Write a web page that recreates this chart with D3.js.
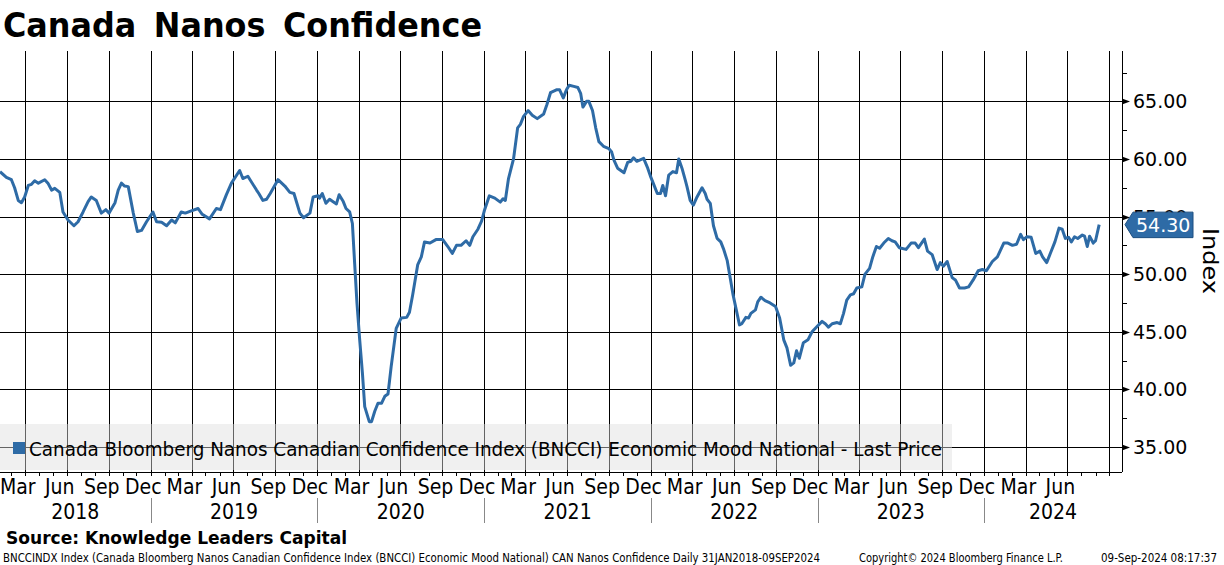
<!DOCTYPE html>
<html lang="en">
<head>
<meta charset="utf-8">
<title>Canada Nanos Confidence</title>
<script src="https://d3js.org/d3.v7.min.js"></script>
<style>
  body { margin: 0; background: #fff; }
  text { font-family: "DejaVu Sans Condensed", "DejaVu Sans", sans-serif; fill: #000; }
  .num { font-family: "DejaVu Sans", sans-serif; }
</style>
</head>
<body>
<script>
// weekly readings
var dates = [
  "2018-02-05","2018-02-19","2018-03-02","2018-03-09","2018-03-17","2018-03-24","2018-03-31","2018-04-08",
  "2018-04-15","2018-04-22","2018-04-30","2018-05-14","2018-05-21","2018-05-29","2018-06-05","2018-06-16",
  "2018-06-23","2018-07-04","2018-07-17","2018-07-26","2018-08-06","2018-08-17","2018-08-24","2018-09-04",
  "2018-09-15","2018-09-25","2018-10-02","2018-10-15","2018-10-22","2018-10-29","2018-11-05","2018-11-13",
  "2018-11-24","2018-12-03","2018-12-12","2018-12-23",
  "2019-01-06","2019-01-14","2019-01-25","2019-02-05","2019-02-16","2019-02-24","2019-03-09","2019-03-18",
  "2019-03-31","2019-04-15","2019-04-24","2019-05-10","2019-05-25","2019-06-03","2019-06-16","2019-06-27",
  "2019-07-15","2019-07-22","2019-08-02","2019-08-21","2019-08-26","2019-09-04","2019-09-12","2019-09-20",
  "2019-10-07","2019-10-22","2019-11-02","2019-11-11","2019-11-24","2019-12-02","2019-12-16","2019-12-23",
  "2020-01-03","2020-01-06","2020-01-12","2020-01-20","2020-01-28","2020-02-08","2020-02-12","2020-02-18",
  "2020-02-27","2020-03-04","2020-03-12","2020-03-18","2020-03-23","2020-03-28","2020-04-03","2020-04-09",
  "2020-04-14","2020-04-24","2020-04-29","2020-05-06","2020-05-13","2020-05-21","2020-05-28","2020-06-04",
  "2020-06-11","2020-06-22","2020-07-03","2020-07-15","2020-07-21","2020-07-28","2020-08-08","2020-08-16",
  "2020-08-23","2020-09-04","2020-09-17","2020-10-02","2020-10-13","2020-10-23","2020-11-01","2020-11-11",
  "2020-11-22","2020-11-30","2020-12-07","2020-12-18","2020-12-26",
  "2021-01-01","2021-01-12","2021-01-24","2021-02-05","2021-02-11","2021-02-16","2021-02-23","2021-03-06",
  "2021-03-15","2021-03-21","2021-03-28","2021-04-07","2021-04-16","2021-04-27","2021-05-11","2021-05-18",
  "2021-05-26","2021-06-08","2021-06-15","2021-06-23","2021-06-30","2021-07-06","2021-07-16","2021-07-25",
  "2021-07-31","2021-08-05","2021-08-13","2021-08-18","2021-08-26","2021-09-02","2021-09-09","2021-09-19",
  "2021-10-01","2021-10-07","2021-10-12","2021-10-20","2021-11-03","2021-11-11","2021-11-18","2021-11-24",
  "2021-12-01","2021-12-16","2021-12-25",
  "2022-01-01","2022-01-06","2022-01-15","2022-01-22","2022-01-27","2022-02-02","2022-02-09","2022-02-18",
  "2022-02-26","2022-03-03","2022-03-10","2022-03-17","2022-03-21","2022-03-28","2022-04-04","2022-04-12",
  "2022-04-23","2022-04-30","2022-05-04","2022-05-11","2022-05-18","2022-05-26","2022-06-03","2022-06-09",
  "2022-06-17","2022-06-24","2022-06-30","2022-07-07","2022-07-14","2022-07-19","2022-07-28","2022-08-03",
  "2022-08-08","2022-08-18","2022-08-23","2022-08-30","2022-09-08","2022-09-19","2022-10-01","2022-10-10",
  "2022-10-15","2022-10-19","2022-10-26","2022-11-03","2022-11-10","2022-11-16","2022-11-22","2022-12-01",
  "2022-12-11","2022-12-20",
  "2023-01-01","2023-01-11","2023-01-18","2023-01-25","2023-02-02","2023-02-13","2023-02-20","2023-02-27",
  "2023-03-06","2023-03-14","2023-03-21","2023-03-28","2023-04-08","2023-04-15","2023-04-25","2023-05-02",
  "2023-05-10","2023-05-17","2023-05-26","2023-06-05","2023-06-13","2023-06-20","2023-06-29","2023-07-14",
  "2023-07-25","2023-08-03","2023-08-10","2023-08-23","2023-08-30","2023-09-09","2023-09-20","2023-09-27",
  "2023-10-04","2023-10-12","2023-10-23","2023-10-30","2023-11-08","2023-11-19","2023-11-28","2023-12-08",
  "2023-12-19","2023-12-28",
  "2024-01-06","2024-01-19","2024-01-30","2024-02-13","2024-02-22","2024-03-03","2024-03-12","2024-03-21",
  "2024-03-27","2024-04-04","2024-04-13","2024-04-23","2024-05-02","2024-05-08","2024-05-17","2024-05-26",
  "2024-06-04","2024-06-13","2024-06-20","2024-06-27","2024-07-04","2024-07-10","2024-07-17","2024-07-24",
  "2024-08-03","2024-08-08","2024-08-14","2024-08-19","2024-08-27","2024-09-01","2024-09-09"
];
var values = [
  58.9,58.4,58.2,57.5,56.4,56.2,56.7,57.7,
  57.8,58.1,57.9,58.2,57.9,57.3,57.45,57.1,
  55.4,54.7,54.2,54.55,55.4,56.3,56.7,56.4,
  55.3,55.6,55.3,56.2,57.3,57.9,57.65,57.6,
  55.3,53.7,53.8,54.55,
  55.4,54.55,54.5,54.2,54.7,54.45,55.4,55.3,
  55.5,55.7,55.2,54.8,55.7,55.6,56.9,57.9,
  59.0,58.3,58.5,57.3,57.0,56.4,56.5,57.0,
  58.2,57.65,57.1,57.0,55.3,54.9,55.3,56.7,
  56.8,56.6,57.0,56.15,56.5,56.2,56.1,56.9,
  56.3,55.7,55.4,54.4,50.9,47.5,44.3,41.4,
  38.5,37.2,37.2,38.1,38.8,38.8,39.4,39.6,
  42.0,45.3,46.2,46.25,46.7,48.2,50.8,51.5,
  52.8,52.7,53.0,53.0,52.4,51.8,52.5,52.5,
  52.9,52.5,53.25,53.9,54.6,
  55.5,56.8,56.6,56.25,56.55,56.4,58.3,60.0,
  62.7,63.0,63.7,64.2,63.8,63.5,63.9,64.7,
  65.75,66.0,66.0,65.3,66.0,66.4,66.3,66.2,
  65.7,64.5,65.0,65.0,64.2,62.7,61.5,61.1,
  60.9,60.6,59.9,59.2,58.8,59.7,59.8,60.1,
  59.8,60.05,59.2,
  58.4,57.9,57.0,57.0,57.7,56.8,58.6,58.9,
  58.8,60.0,59.2,58.2,57.6,56.4,56.0,56.7,
  57.5,57.0,56.5,56.15,54.2,53.1,52.8,52.2,
  51.2,49.6,48.2,46.9,45.6,45.7,46.25,46.2,
  46.6,46.9,47.6,48.0,47.7,47.5,47.2,46.2,
  45.15,44.3,43.6,42.1,42.3,43.35,42.7,44.05,
  44.3,45.0,
  45.5,45.9,45.7,45.4,45.7,45.8,45.7,46.6,
  47.75,48.2,48.3,48.8,48.9,50.0,50.5,51.5,
  52.4,52.25,52.7,53.1,52.9,52.8,52.3,52.15,
  52.7,52.7,52.3,53.05,52.0,51.7,50.4,51.0,
  50.7,51.1,49.7,49.5,48.8,48.8,48.9,49.5,
  50.3,50.4,
  50.3,51.1,51.5,52.7,52.7,52.5,52.6,53.45,
  53.0,53.25,53.2,51.8,52.0,51.5,51.0,51.9,
  52.8,54.0,53.9,53.1,53.2,52.8,53.25,53.1,
  53.4,53.3,52.4,53.3,52.7,52.9,54.3
];
var yTicks = [35, 40, 45, 50, 55, 60, 65];
var quarterMonths = ["Mar", "Jun", "Sep", "Dec"];
var years = [2018, 2019, 2020, 2021, 2022, 2023, 2024];
var lastLabelMonth = "2024-06";
var lastPrice = 54.30;
var title = "Canada Nanos Confidence";
var legendText = "Canada Bloomberg Nanos Canadian Confidence Index (BNCCI) Economic Mood National - Last Price";
var sourceText = "Source: Knowledge Leaders Capital";
var footer1 = "BNCCINDX Index (Canada Bloomberg Nanos Canadian Confidence Index (BNCCI) Economic Mood National) CAN Nanos Confidence  Daily 31JAN2018-09SEP2024";
var footer2 = "Copyright\u00a9 2024 Bloomberg Finance L.P.";
var footer3 = "09-Sep-2024 08:17:37";

var width = 1224, height = 565;
var plotLeft = 0, plotRight = 1122, plotTop = 51, plotBottom = 472;
var blue = "#2e6ba6";

var parse = d3.timeParse("%Y-%m-%d");
var data = dates.map(function(d, i) { return {date: parse(d), value: values[i]}; });

var x = d3.scaleTime()
  .domain([new Date(2018, 1, 5), new Date(2024, 9, 29)])
  .range([plotLeft, plotRight]);
var y = d3.scaleLinear()
  .domain([32.83, 69.37])
  .range([plotBottom, plotTop]);

var svg = d3.select("body").append("svg")
  .attr("width", width)
  .attr("height", height);

// squeeze a text to the width it has in the picture
function fit(sel, w) {
  var len = sel.node().getComputedTextLength();
  if (Math.abs(len - w) > 1) sel.attr("textLength", w).attr("lengthAdjust", "spacingAndGlyphs");
  return sel;
}
function px(v) { return Math.round(v) + 0.5; }

// title
fit(svg.append("text")
  .attr("x", 3).attr("y", 37)
  .attr("font-size", 33).attr("font-weight", "bold")
  .attr("word-spacing", 6)
  .text(title), 479);

// grid
var grid = svg.append("g").attr("shape-rendering", "crispEdges").attr("stroke", "#000");
grid.selectAll("line.v")
  .data(x.ticks(d3.timeMonth.every(3)))
  .join("line")
  .attr("class", "v")
  .attr("x1", function(d) { return px(x(d)); })
  .attr("x2", function(d) { return px(x(d)); })
  .attr("y1", plotTop).attr("y2", plotBottom);
grid.selectAll("line.h")
  .data(yTicks)
  .join("line")
  .attr("class", "h")
  .attr("x1", plotLeft).attr("x2", plotRight)
  .attr("y1", function(d) { return px(y(d)); })
  .attr("y2", function(d) { return px(y(d)); });

// series
svg.append("clipPath").attr("id", "plotclip")
  .append("rect")
  .attr("x", plotLeft).attr("y", plotTop)
  .attr("width", plotRight - plotLeft).attr("height", plotBottom - plotTop);

var line = d3.line()
  .x(function(d) { return x(d.date); })
  .y(function(d) { return y(d.value); });

svg.append("path")
  .datum(data)
  .attr("clip-path", "url(#plotclip)")
  .attr("fill", "none")
  .attr("stroke", blue)
  .attr("stroke-width", 3)
  .attr("stroke-linejoin", "round")
  .attr("d", line);

// legend (translucent, the grid shows through)
svg.append("rect")
  .attr("x", 0).attr("y", 424).attr("width", 952).attr("height", 46)
  .attr("fill", "rgb(222,222,222)").attr("fill-opacity", 0.45);
svg.append("rect")
  .attr("x", 13).attr("y", 442).attr("width", 12).attr("height", 12)
  .attr("fill", blue);
fit(svg.append("text")
  .attr("x", 29).attr("y", 456)
  .attr("font-size", 19).attr("fill", "#222")
  .text(legendText), 913);

// right axis
var axisR = svg.append("g");
axisR.append("line")
  .attr("x1", plotRight + 0.5).attr("x2", plotRight + 0.5)
  .attr("y1", plotTop).attr("y2", plotBottom)
  .attr("stroke", "#000").attr("shape-rendering", "crispEdges");
axisR.selectAll("path.major")
  .data(yTicks)
  .join("path")
  .attr("class", "major")
  .attr("d", function(d) {
    var yy = px(y(d));
    return "M" + plotRight + "," + (yy - 3) + "L" + (plotRight + 8) + "," + yy +
           "L" + plotRight + "," + (yy + 3) + "Z";
  })
  .attr("fill", "#000");
axisR.selectAll("line.minor")
  .data(yTicks.map(function(d) { return d + 2.5; }).filter(function(d) { return y(d) > plotTop; }))
  .join("line")
  .attr("class", "minor")
  .attr("x1", plotRight).attr("x2", plotRight + 5)
  .attr("y1", function(d) { return px(y(d)); })
  .attr("y2", function(d) { return px(y(d)); })
  .attr("stroke", "#000").attr("shape-rendering", "crispEdges");
axisR.selectAll("text")
  .data(yTicks)
  .join("text")
  .attr("class", "num")
  .attr("x", plotRight + 11)
  .attr("y", function(d) { return y(d) + 7; })
  .attr("font-size", 19)
  .text(d3.format(".2f"));

// last price tag
var yl = y(lastPrice);
svg.append("path")
  .attr("d", "M" + (plotRight + 3) + "," + yl + "L" + (plotRight + 11) + "," + (yl - 12.5) +
             "L1193," + (yl - 12.5) + "L1193," + (yl + 13) + "L" + (plotRight + 11) + "," + (yl + 13) + "Z")
  .attr("fill", blue).attr("stroke", "#1d4f80").attr("stroke-width", 1);
svg.append("text")
  .attr("class", "num")
  .attr("x", plotRight + 14).attr("y", yl + 7)
  .attr("font-size", 19)
  .style("fill", "#fff")
  .text(d3.format(".2f")(lastPrice));

// axis title
fit(svg.append("text")
  .attr("class", "num")
  .attr("transform", "translate(1203,228) rotate(90)")
  .attr("font-size", 21)
  .text("Index"), 66);

// bottom axis
var axisB = svg.append("g");
axisB.append("line")
  .attr("x1", plotLeft).attr("x2", plotRight)
  .attr("y1", plotBottom + 0.5).attr("y2", plotBottom + 0.5)
  .attr("stroke", "#000").attr("shape-rendering", "crispEdges");
axisB.selectAll("line.mt")
  .data(x.ticks(d3.timeMonth.every(1)))
  .join("line")
  .attr("class", "mt")
  .attr("x1", function(d) { return px(x(d)); })
  .attr("x2", function(d) { return px(x(d)); })
  .attr("y1", plotBottom).attr("y2", plotBottom + 4)
  .attr("stroke", "#000").attr("shape-rendering", "crispEdges");

var monthLabels = [];
years.forEach(function(yr) {
  quarterMonths.forEach(function(m, i) {
    var d = new Date(yr, i * 3 + 2, 16);
    if (d3.timeFormat("%Y-%m")(d) <= lastLabelMonth) monthLabels.push({date: d, label: m});
  });
});
axisB.selectAll("text.m")
  .data(monthLabels)
  .join("text")
  .attr("class", "m")
  .attr("x", function(d) { return x(d.date); })
  .attr("y", 494)
  .attr("text-anchor", "middle")
  .attr("font-size", 21)
  .text(function(d) { return d.label; });

axisB.selectAll("text.y")
  .data(years)
  .join("text")
  .attr("class", "y")
  .attr("x", function(d) {
    var a = Math.max(x(new Date(d, 0, 1)), plotLeft);
    var b = Math.min(x(new Date(d + 1, 0, 1)), plotRight);
    return (a + b) / 2;
  })
  .attr("y", 519)
  .attr("text-anchor", "middle")
  .attr("font-size", 21)
  .text(function(d) { return d; });

axisB.selectAll("line.ys")
  .data(years.slice(1))
  .join("line")
  .attr("class", "ys")
  .attr("x1", function(d) { return px(x(new Date(d, 0, 1))); })
  .attr("x2", function(d) { return px(x(new Date(d, 0, 1))); })
  .attr("y1", 498).attr("y2", 523)
  .attr("stroke", "#888").attr("shape-rendering", "crispEdges");

// source and footer
fit(svg.append("text")
  .attr("x", 6).attr("y", 544)
  .attr("font-size", 18).attr("font-weight", "bold")
  .text(sourceText), 341);
fit(svg.append("text").attr("x", 3).attr("y", 561.5).attr("font-size", 12).text(footer1), 817);
fit(svg.append("text").attr("x", 859).attr("y", 561.5).attr("font-size", 12).text(footer2), 204);
fit(svg.append("text").attr("x", 1101).attr("y", 561.5).attr("font-size", 12).text(footer3), 116);
</script>
</body>
</html>
